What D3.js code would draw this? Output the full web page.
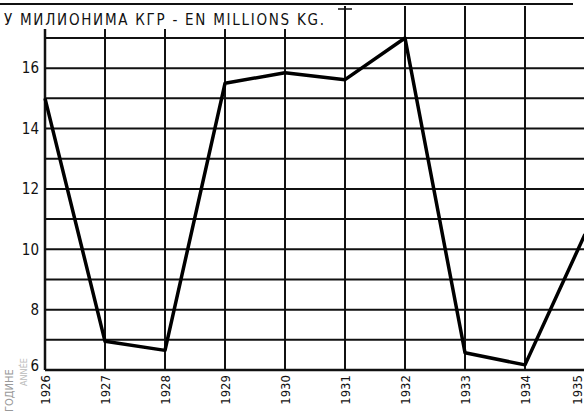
<!DOCTYPE html>
<html>
	<head>
		<meta charset="utf-8">
		<title>Million kg</title>
		<style type="text/css">
			body { margin: 0; background: #fff; }
			text { font-family: "DejaVu Sans Condensed", "DejaVu Sans", sans-serif; font-stretch: condensed; fill: #111; }
			.grid line { stroke: #111; stroke-width: 2; }
			.line { fill: none; stroke: #000; stroke-width: 3.5; stroke-linejoin: round; }
		</style>
		<script src="https://d3js.org/d3.v7.min.js"></script>
	</head>
	<body>
		<div id="chart"></div>
		<script>
			// data
			var years = [1926, 1927, 1928, 1929, 1930, 1931, 1932, 1933, 1934, 1935];
			var values = [15.0, 6.95, 6.65, 15.5, 15.85, 15.62, 17.0, 6.57, 6.17, 10.5];
			var yTicks = [6, 8, 10, 12, 14, 16];
			var yGrid = [7, 8, 9, 10, 11, 12, 13, 14, 15, 16, 17];
			var title = "У МИЛИОНИМА КГР - EN MILLIONS KG.";

			var width = 584, height = 415;

			var x = d3.scaleLinear().domain([1926, 1935]).range([45, 585]);
			var y = d3.scaleLinear().domain([6, 17]).range([370, 38]);

			var svg = d3.select("#chart").append("svg")
				.attr("width", width)
				.attr("height", height);

			// grid
			var grid = svg.append("g").attr("class", "grid");

			grid.selectAll(".h")
				.data(yGrid)
				.enter().append("line")
				.attr("x1", x(1926)).attr("x2", width)
				.attr("y1", function(d) { return y(d); })
				.attr("y2", function(d) { return y(d); });

			grid.selectAll(".v")
				.data(years)
				.enter().append("line")
				.attr("x1", function(d) { return x(d); })
				.attr("x2", function(d) { return x(d); })
				.attr("y1", y(6))
				.attr("y2", function(d) { return d < 1931 ? 29 : 6; })
				.style("stroke-width", function(d) { return d == 1926 ? 2.5 : 2; });

			// bottom axis line
			grid.append("line")
				.attr("x1", x(1926)).attr("x2", width)
				.attr("y1", y(6)).attr("y2", y(6))
				.style("stroke-width", 2.5);

			// top rule
			grid.append("line")
				.attr("x1", 0).attr("x2", 573)
				.attr("y1", 4).attr("y2", 4)
				.style("stroke-width", 2);
			grid.append("line")
				.attr("x1", 338).attr("x2", 352)
				.attr("y1", 9).attr("y2", 9)
				.style("stroke-width", 1.5);

			// title
			svg.append("text")
				.attr("x", 4)
				.attr("y", 25)
				.attr("textLength", 320)
				.style("font-size", "15px")
				.text(title);

			// y labels
			svg.append("g")
				.selectAll("text")
				.data(yTicks)
				.enter().append("text")
				.attr("x", 39)
				.attr("y", function(d) { return d == 6 ? y(d) - 4 : y(d); })
				.attr("dy", "0.35em")
				.attr("text-anchor", "end")
				.style("font-size", "15px")
				.text(function(d) { return d; });

			// x labels (last one pulled inside the frame)
			svg.append("g")
				.selectAll("text")
				.data(years)
				.enter().append("text")
				.attr("transform", function(d) { return "translate(" + Math.min(x(d), 577) + ",375) rotate(-90)"; })
				.attr("dy", "0.35em")
				.attr("text-anchor", "end")
				.style("font-size", "13px")
				.text(function(d) { return d; });

			// faded axis caption
			svg.append("text")
				.attr("transform", "translate(13,412) rotate(-90)")
				.style("font-size", "11px")
				.style("fill", "#999")
				.text("ГОДИНЕ");
			svg.append("text")
				.attr("transform", "translate(27,386) rotate(-90)")
				.style("font-size", "9px")
				.style("fill", "#bbb")
				.text("ANNÉE");

			// line
			var line = d3.line()
				.x(function(d, i) { return x(years[i]); })
				.y(function(d) { return y(d); });

			svg.append("path")
				.datum(values)
				.attr("class", "line")
				.attr("d", line);
		</script>
	</body>
</html>
